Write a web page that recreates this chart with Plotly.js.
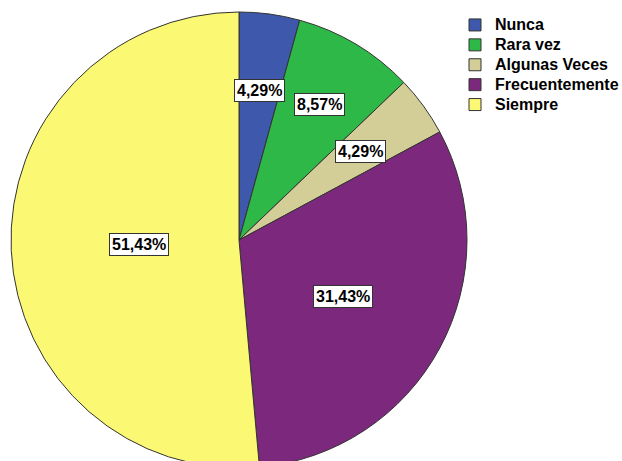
<!DOCTYPE html>
<html>
<head>
<meta charset="utf-8">
<script src="https://cdn.plot.ly/plotly-3.0.1.min.js"></script>
<style>
html,body{margin:0;padding:0;overflow:hidden;background:#fff;}
#chart{width:622px;height:470px;}
</style>
</head>
<body>
<div id="chart"></div>
<script>
const categories = ['Nunca', 'Rara vez', 'Algunas Veces', 'Frecuentemente', 'Siempre'];
const counts = [3, 6, 3, 22, 36];
const colors = ['#3E58AC', '#2EB848', '#D3CE97', '#7C287D', '#FBF873'];

const total = counts.reduce((a, b) => a + b, 0);
const percentLabels = counts.map(c => (c / total * 100).toFixed(2).replace('.', ',') + '%');

// layout geometry (pixels)
const W = 622, H = 470;
const cx = 239, cy = 240, R = 228;
const labelRadius = [0.66, 0.69, 0.66, 0.52, 0.44];

const annotations = [];
let cum = 0;
counts.forEach((c, i) => {
  const mid = (cum + c / 2) / total * 2 * Math.PI;
  cum += c;
  const px = cx + R * labelRadius[i] * Math.sin(mid);
  const py = cy - R * labelRadius[i] * Math.cos(mid);
  annotations.push({
    x: px / W, y: 1 - py / H, xref: 'paper', yref: 'paper',
    xanchor: 'center', yanchor: 'middle',
    text: percentLabels[i], showarrow: false,
    bgcolor: '#ffffff', bordercolor: '#333333', borderwidth: 1, borderpad: 2,
    font: {family: 'Liberation Sans, Arial, sans-serif', size: 16, color: '#000', weight: 'bold'}
  });
});

const trace = {
  type: 'pie',
  labels: categories.map(c => '<span style="font-size:16px">' + c + '</span>'),
  values: counts,
  sort: false,
  direction: 'clockwise',
  rotation: 0,
  textinfo: 'none',
  hoverinfo: 'label+percent',
  marker: {colors: colors, line: {color: '#333333', width: 1}},
  domain: {x: [(cx - R) / W, (cx + R) / W], y: [1 - (cy + R) / H, 1 - (cy - R) / H]}
};

const layout = {
  width: W, height: H,
  margin: {l: 0, r: 0, t: 0, b: 0, autoexpand: false},
  paper_bgcolor: '#ffffff',
  showlegend: true,
  legend: {
    x: 455 / W, y: 1 - 10 / H, xanchor: 'left', yanchor: 'top',
    font: {family: 'Liberation Sans, Arial, sans-serif', size: 13, color: '#000', weight: 'bold'},
    tracegroupgap: 0, itemwidth: 30,
    bgcolor: 'rgba(0,0,0,0)'
  },
  annotations: annotations
};

Plotly.newPlot('chart', [trace], layout, {displayModeBar: false, staticPlot: true});
</script>
</body>
</html>
